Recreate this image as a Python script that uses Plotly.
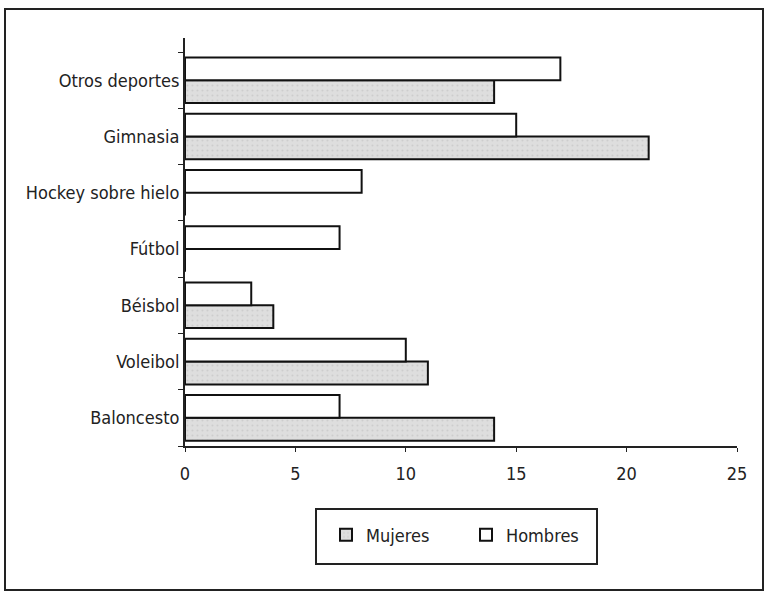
import plotly.graph_objects as go

deportes = ['Baloncesto', 'Voleibol', 'Béisbol', 'Fútbol',
            'Hockey sobre hielo', 'Gimnasia', 'Otros deportes']
mujeres = [14, 11, 4, 0, 0, 21, 14]
hombres = [7, 10, 3, 7, 8, 15, 17]
x_ticks = [0, 5, 10, 15, 20, 25]

FONT = 'Liberation Sans Narrow, DejaVu Sans Condensed, sans-serif'

fig = go.Figure()

fig.add_trace(go.Bar(
    y=deportes, x=mujeres, orientation='h', name='Mujeres',
    marker=dict(color='#dedede', line=dict(color='#111', width=2),
                pattern=dict(shape='.', fgcolor='#bcbcbc', size=5, solidity=0.15))
))
fig.add_trace(go.Bar(
    y=deportes, x=hombres, orientation='h', name='Hombres',
    marker=dict(color='white', line=dict(color='#111', width=2))
))

# outer frame and legend box (pixel positions converted to paper units)
L, R, T, B = 185, 737, 38, 446
W, H = R - L, B - T
px = lambda v: (v - L) / W
py = lambda v: (B - v) / H

fig.add_shape(type='rect', xref='paper', yref='paper',
              x0=px(5), x1=px(763), y0=py(9), y1=py(590),
              line=dict(color='#222', width=2))
fig.add_shape(type='rect', xref='paper', yref='paper',
              x0=px(316), x1=px(597), y0=py(509), y1=py(564),
              line=dict(color='#222', width=2))

fig.update_layout(
    width=767, height=593,
    margin=dict(l=L, r=767 - R, t=T, b=593 - B),
    paper_bgcolor='white', plot_bgcolor='white',
    font=dict(family=FONT, size=18, color='#222'),
    barmode='group', bargap=0.19, bargroupgap=0.0,
    showlegend=True,
    legend=dict(orientation='h', x=px(326), xanchor='left',
                y=py(535), yanchor='middle',
                entrywidth=95, entrywidthmode='pixels',
                bgcolor='rgba(0,0,0,0)'),
    xaxis=dict(range=[0, 25], tickvals=x_ticks, showgrid=False, zeroline=False,
               showline=True, linecolor='#222', linewidth=2,
               ticks='outside', ticklen=4, tickcolor='#222',
               ticklabelstandoff=6),
    yaxis=dict(range=[-0.5, 6.75], showgrid=False, zeroline=False,
               showline=True, linecolor='#222', linewidth=2,
               ticks='outside', ticklen=5, tickcolor='#222',
               tickson='boundaries'),
)

fig.write_html('out.html', config={'displayModeBar': False},
               post_script="document.body.style.margin='0';document.body.style.overflow='hidden';")
